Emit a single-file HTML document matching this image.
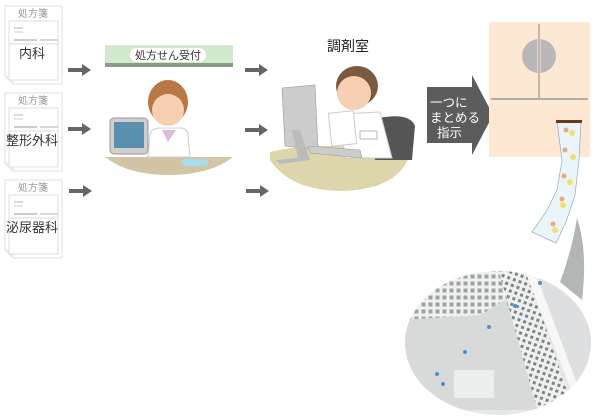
<!DOCTYPE html>
<html><head><meta charset="utf-8">
<style>
html,body{margin:0;padding:0;background:#fff;width:600px;height:418px;overflow:hidden}
svg{display:block}
text{font-family:"Liberation Sans","Noto Sans CJK JP",sans-serif}
</style></head><body>
<svg width="600" height="418" viewBox="0 0 600 418" xmlns="http://www.w3.org/2000/svg">
<defs>
<g id="doc">
  <path d="M0,0 H57 V78 H8 L0,70 Z" fill="#fff" stroke="#e2e2e2"/>
  <path d="M0,70 L8,78 L9,71 Z" fill="#eee" stroke="#ddd" stroke-width="0.5"/>
  <rect x="4" y="15" width="49" height="59" fill="#fff" stroke="#ddd"/>
  <line x1="9" y1="22" x2="18" y2="22" stroke="#ccc" stroke-width="1.5"/>
  <line x1="9" y1="26" x2="18" y2="26" stroke="#ccc" stroke-width="1"/>
  <line x1="9" y1="34" x2="32" y2="34" stroke="#bbb" stroke-width="1.5"/>
  <line x1="35" y1="34" x2="53" y2="34" stroke="#ccc" stroke-width="1.5"/>
  <line x1="4" y1="38" x2="53" y2="38" stroke="#ddd"/>
  <text x="28" y="11" font-size="10" fill="#999" text-anchor="middle">処方箋</text>
</g>
<g id="arr"><rect x="0" y="-2" width="15" height="4" fill="#666"/><path d="M14,-6 L23,0 L14,6Z" fill="#666"/></g>
<pattern id="grid" width="7" height="7" patternUnits="userSpaceOnUse">
  <rect width="7" height="7" fill="#f0f1f1"/><rect x="1.5" y="1.5" width="4" height="4" fill="#9da2a5"/>
</pattern>
<pattern id="grid2" width="6" height="6" patternUnits="userSpaceOnUse" patternTransform="rotate(20)">
  <rect width="6" height="6" fill="#eeefef"/><rect x="1.5" y="1.5" width="3" height="3" fill="#7d8386"/>
</pattern>
<clipPath id="ph"><ellipse cx="498" cy="343" rx="93" ry="72"/></clipPath>
</defs>

<use href="#doc" x="5" y="6"/>
<text x="32" y="58" font-size="13" fill="#333" text-anchor="middle">内科</text>
<use href="#doc" x="5" y="93"/>
<text x="32" y="145" font-size="13" fill="#333" text-anchor="middle">整形外科</text>
<use href="#doc" x="5" y="180"/>
<text x="32" y="232" font-size="13" fill="#333" text-anchor="middle">泌尿器科</text>

<use href="#arr" x="68" y="70"/><use href="#arr" x="68" y="129"/><use href="#arr" x="69" y="191"/>
<use href="#arr" x="245" y="70"/><use href="#arr" x="245" y="130"/><use href="#arr" x="246" y="191"/>

<!-- reception -->
<rect x="105" y="45" width="128" height="18" fill="#d3e8cc"/>
<rect x="105" y="63" width="128" height="4" fill="#8a9c88"/>
<rect x="130" y="48" width="76" height="14" rx="7" fill="#fff"/>
<text x="168" y="59" font-size="11" fill="#333" text-anchor="middle">処方せん受付</text>
<path d="M105,157 H233 Q210,175 169,175 Q128,175 105,157Z" fill="#d3c4a6"/>
<rect x="110" y="118" width="38" height="36" rx="4" fill="#cfcfcf" stroke="#999"/>
<rect x="114" y="122" width="30" height="26" fill="#5a8fad"/>
<path d="M150,136 Q150,128 160,128 L180,128 Q188,128 188,136 L190,157 H148Z" fill="#fff" stroke="#ccc"/>
<path d="M162,130 L168,142 L176,130 Z" fill="#d6bde0"/>
<ellipse cx="168" cy="102" rx="20" ry="22" fill="#b87745"/>
<ellipse cx="168" cy="110" rx="16" ry="16" fill="#f7cfb3"/>
<rect x="182" y="159" width="26" height="7" rx="3" fill="#a9dceb"/>

<!-- pharmacist -->
<text x="348" y="51" font-size="14" fill="#222" text-anchor="middle">調剤室</text>
<path d="M270,152 Q300,145 330,146 L412,146 Q405,190 340,191 Q290,190 270,160Z" fill="#ddd6ac"/>
<path d="M378,118 Q410,112 415,126 L412,160 L375,160Z" fill="#555"/>
<path d="M282,88 L315,85 L318,150 L285,146Z" fill="#ccc" stroke="#999" stroke-width="0.6"/>
<path d="M292,130 L298,158 L276,160 L280,164 L310,160 L300,130Z" fill="#bbb"/>
<path d="M340,114 L380,112 L392,158 L345,158Z" fill="#fff" stroke="#ccc"/>
<rect x="330" y="112" width="25" height="33" fill="#fff" stroke="#ccc" transform="rotate(-6 342 128)"/>
<rect x="360" y="131" width="17" height="8" fill="#fff" stroke="#777" stroke-width="0.5"/>
<path d="M308,146 L360,150 L362,158 L310,153Z" fill="#ccc" stroke="#999" stroke-width="0.5"/>
<ellipse cx="357" cy="86" rx="21" ry="20" fill="#7a5a3e"/>
<ellipse cx="354" cy="93" rx="17" ry="17" fill="#f7cfb3"/>

<!-- dark arrow -->
<path d="M427,87 H472 V75 L493,115 L472,155 V143 H427Z" fill="#5c5c5c"/>
<text x="430" y="107" font-size="12.5" fill="#fff">一つに</text>
<text x="430" y="122" font-size="12.5" fill="#fff">まとめる</text>
<text x="437" y="137" font-size="12.5" fill="#fff">指示</text>

<!-- cabinet -->
<rect x="489" y="22" width="101" height="135" fill="#fde8d4"/>
<circle cx="539" cy="56" r="17" fill="#b8b8b8"/>
<line x1="539" y1="36" x2="539" y2="76" stroke="#fde8d4" stroke-width="3"/>
<line x1="539" y1="24" x2="539" y2="98" stroke="#888" stroke-width="1"/>
<line x1="491" y1="99" x2="588" y2="99" stroke="#888" stroke-width="1.2"/>
<!-- strip -->
<path d="M557,122 L581,122 L579,160 L575,195 L566,222 L556,243 L532,232 L546,212 L557,190 L562,160Z" fill="#eaf5fa" stroke="#9ab" stroke-width="0.7"/>
<rect x="556" y="120" width="26" height="3" fill="#6a3a20"/>
<g fill="#f2e06a"><circle cx="572" cy="133" r="3"/><circle cx="573" cy="157" r="3"/>
<circle cx="570" cy="182" r="3"/><circle cx="563" cy="205" r="3"/><circle cx="555" cy="230" r="3"/></g>
<g fill="#e8a98a"><circle cx="566" cy="130" r="2.5"/><circle cx="565" cy="150" r="2.5"/><circle cx="564" cy="176" r="2.5"/><circle cx="562" cy="199" r="2.5"/><circle cx="553" cy="224" r="2.5"/></g>

<!-- photo -->
<path d="M577,218 Q572,250 560,282 L582,300 Q588,250 577,218Z" fill="#b3b6b6"/>
<g clip-path="url(#ph)">
<rect x="400" y="265" width="200" height="155" fill="#e6e7e7"/>
<path d="M400,265 H530 L520,340 L400,340Z" fill="url(#grid)"/>
<path d="M430,265 H535 L515,300 L430,290Z" fill="url(#grid)" opacity="0.9"/>
<path d="M400,320 L480,315 L505,300 L560,410 L400,410Z" fill="#d8dada"/>
<path d="M500,275 L525,265 L575,415 L540,420Z" fill="url(#grid2)"/>
<path d="M523,266 L532,264 L585,400 L577,405Z" fill="#f7f7f7"/>
<path d="M532,264 L600,270 L600,420 L585,405Z" fill="#dedfe0"/>
<rect x="454" y="370" width="40" height="28" fill="#f1f2f2" opacity="0.8"/>
<g fill="#4a90d0"><circle cx="443" cy="384" r="2"/><circle cx="437" cy="374" r="2"/><circle cx="465" cy="352" r="2"/><circle cx="489" cy="327" r="2"/><circle cx="515" cy="306" r="2"/><circle cx="540" cy="283" r="2"/></g>
</g>
</svg>
</body></html>
